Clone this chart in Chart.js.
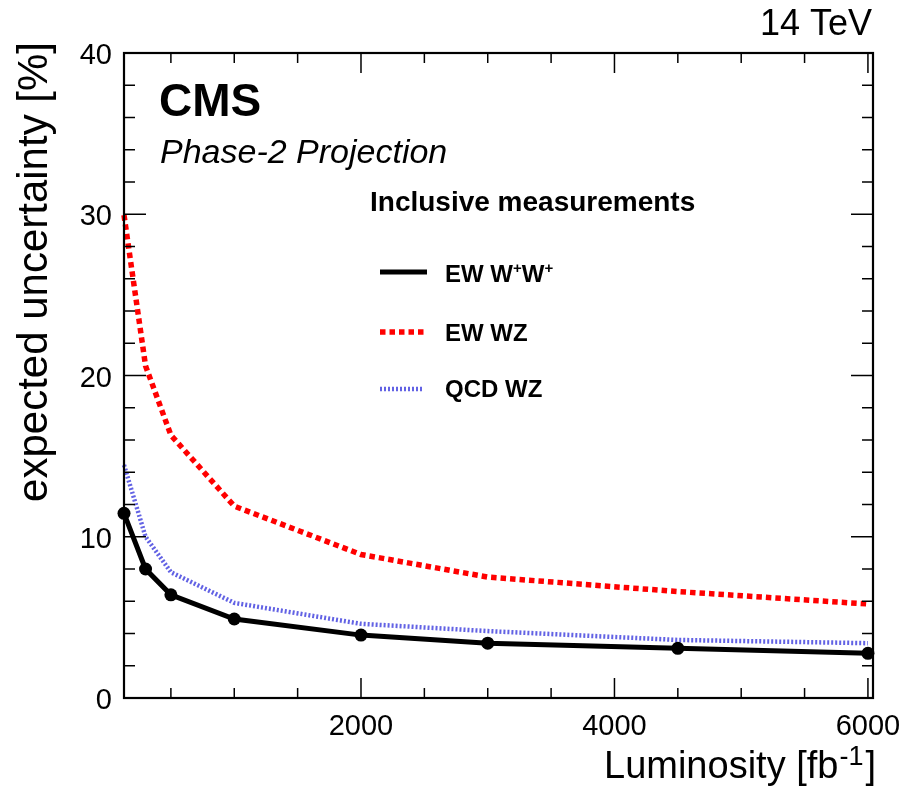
<!DOCTYPE html>
<html><head><meta charset="utf-8">
<script src="https://cdn.jsdelivr.net/npm/chart.js@4/dist/chart.umd.min.js"></script>
<style>html,body{margin:0;padding:0;background:#fff}#wrap{width:906px;height:793px}</style>
</head><body><div id="wrap"><canvas id="c" width="906" height="793"></canvas></div>
<script>
// ---- data ----
const luminosity = [130, 300, 500, 1000, 2000, 3000, 4500, 6000];
const ewWpWp = [11.45, 8.0, 6.4, 4.9, 3.9, 3.4, 3.08, 2.77];
const ewWZ = [29.95, 20.6, 16.3, 11.9, 8.9, 7.5, 6.6, 5.83];
const qcdWZ = [14.45, 10.0, 7.8, 5.9, 4.6, 4.15, 3.6, 3.4];
const seriesNames = ['EW W+W+', 'EW WZ', 'QCD WZ'];
const xTickLabels = [2000, 4000, 6000];
const yTickLabels = [0, 10, 20, 30, 40];

const FONT = '"Liberation Sans", Arial, Helvetica, sans-serif';
const pts = ys => luminosity.map((x, i) => ({x: x, y: ys[i]}));

const decor = {
  id: 'decor',
  afterDraw(chart) {
    const ctx = chart.ctx;
    const xs = chart.scales.x, ys = chart.scales.y;
    const L = xs.left, R = xs.right, T = ys.top, B = ys.bottom;
    const line = (a, b, c, d) => { ctx.beginPath(); ctx.moveTo(a, b); ctx.lineTo(c, d); ctx.stroke(); };
    ctx.save();
    ctx.setLineDash([]);
    ctx.strokeStyle = '#000';
    // ticks
    ctx.lineWidth = 1.5;
    for (let v = 500; v <= xs.max; v += 500) {
      const px = xs.getPixelForValue(v);
      const len = (v % 2000 === 0) ? 20 : 10;
      line(px, B, px, B - len); line(px, T, px, T + len);
    }
    for (let v = 0; v <= ys.max; v += 2) {
      const py = ys.getPixelForValue(v);
      const len = (v % 10 === 0) ? 22 : 11;
      line(L, py, L + len, py); line(R, py, R - len, py);
    }
    // frame
    ctx.lineWidth = 2.2;
    ctx.strokeRect(L, T, R - L, B - T);
    // tick labels
    ctx.fillStyle = '#000';
    ctx.font = '29px ' + FONT;
    ctx.textAlign = 'center'; ctx.textBaseline = 'alphabetic';
    xTickLabels.forEach(v => ctx.fillText(String(v), xs.getPixelForValue(v), B + 37));
    ctx.textAlign = 'right';
    yTickLabels.forEach(v => ctx.fillText(String(v), L - 12, ys.getPixelForValue(v) + 11));
    // x title with superscript, right aligned
    const xt1 = 'Luminosity [fb', xsup = '-1', xt2 = ']';
    ctx.font = '38px ' + FONT; const w1 = ctx.measureText(xt1).width, w3 = ctx.measureText(xt2).width;
    ctx.font = '27px ' + FONT; const w2 = ctx.measureText(xsup).width;
    let xx = 876 - (w1 + w2 + w3 + 3);
    ctx.textAlign = 'left';
    ctx.font = '38px ' + FONT; ctx.fillText(xt1, xx, 778); xx += w1 + 1;
    ctx.font = '27px ' + FONT; ctx.fillText(xsup, xx, 765); xx += w2 + 2;
    ctx.font = '38px ' + FONT; ctx.fillText(xt2, xx, 778);
    // y title
    ctx.save();
    ctx.translate(47, 42);
    ctx.rotate(-Math.PI / 2);
    ctx.textAlign = 'right';
    ctx.font = '42px ' + FONT;
    ctx.fillText('expected uncertainty [%]', 0, 0);
    ctx.restore();
    // 14 TeV
    ctx.textAlign = 'right';
    ctx.font = '36px ' + FONT;
    ctx.fillText('14 TeV', 872, 35);
    // CMS
    ctx.textAlign = 'left';
    ctx.font = 'bold 46px ' + FONT;
    ctx.fillText('CMS', 159, 116);
    ctx.font = 'italic 34px ' + FONT;
    ctx.fillText('Phase-2 Projection', 160, 163);
    // legend header
    ctx.font = 'bold 28px ' + FONT;
    ctx.fillText('Inclusive measurements', 370, 211);
    // legend entries
    const rows = [272, 332, 389];
    const bases = [282, 341, 397];
    const ends = [427, 424, 424];
    chart.data.datasets.forEach((ds, i) => {
      ctx.save();
      ctx.strokeStyle = ds.borderColor;
      ctx.lineWidth = ds.borderWidth;
      ctx.setLineDash(ds.borderDash || []);
      ctx.lineCap = 'butt';
      line(380, rows[i], ends[i], rows[i]);
      ctx.restore();
      ctx.fillStyle = '#000';
      const name = ds.label;
      let tx = 445;
      const parts = name.split('+');
      parts.forEach((p, k) => {
        ctx.font = 'bold 24px ' + FONT;
        ctx.fillText(p, tx, bases[i]); tx += ctx.measureText(p).width;
        if (k < parts.length - 1) {
          ctx.font = 'bold 15px ' + FONT;
          ctx.fillText('+', tx, bases[i] - 9); tx += ctx.measureText('+').width;
        }
      });
    });
    ctx.restore();
  }
};

new Chart(document.getElementById('c'), {
  type: 'line',
  data: {
    datasets: [
      { label: seriesNames[0], data: pts(ewWpWp), borderColor: '#000', backgroundColor: '#000',
        borderWidth: 5, pointRadius: 6.5, pointBackgroundColor: '#000', pointBorderWidth: 0, clip: false, order: 0 },
      { label: seriesNames[1], data: pts(ewWZ), borderColor: '#ff0000', borderWidth: 5.5,
        borderDash: [5.5, 4], pointRadius: 0, clip: false, order: 1 },
      { label: seriesNames[2], data: pts(qcdWZ), borderColor: 'rgb(98,98,228)', borderWidth: 4.5,
        borderDash: [2, 2], pointRadius: 0, clip: false, order: 2 }
    ]
  },
  options: {
    responsive: false, animation: false, devicePixelRatio: 1,
    layout: { padding: { left: 124, right: 33, top: 53, bottom: 95 } },
    plugins: { legend: { display: false }, tooltip: { enabled: false } },
    elements: { line: { tension: 0, borderCapStyle: 'butt' } },
    scales: {
      x: { type: 'linear', min: 130, max: 6040, display: false },
      y: { type: 'linear', min: 0, max: 40, display: false }
    }
  },
  plugins: [decor]
});
</script>
</body></html>
